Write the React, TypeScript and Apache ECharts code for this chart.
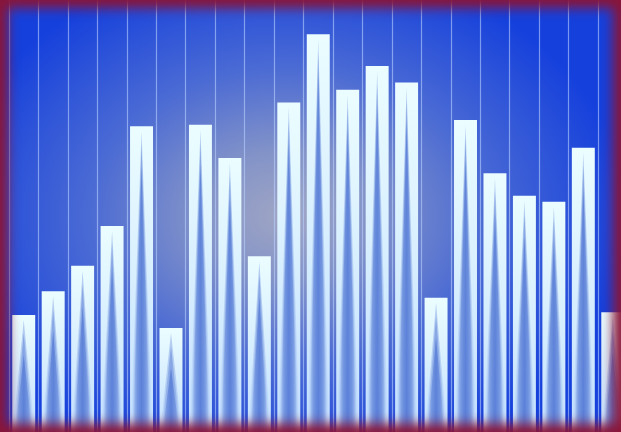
import React, { useEffect, useRef } from "react";
import * as echarts from "echarts";

const categories: string[] = [
  "1", "2", "3", "4", "5", "6", "7", "8", "9", "10", "11",
  "12", "13", "14", "15", "16", "17", "18", "19", "20", "21",
];
const values: number[] = [
  27.1, 32.6, 38.5, 47.7, 70.8, 24.1, 71.1, 63.4, 40.7, 76.3, 92.1,
  79.2, 84.7, 80.9, 31.1, 72.2, 59.9, 54.7, 53.3, 65.8, 27.7,
];
const yMin = 0;
const yMax = 100;

function wedgeFill(alpha: number) {
  return new echarts.graphic.LinearGradient(0, 0, 1, 0, [
    { offset: 0, color: "rgba(60,100,205,0)" },
    { offset: 0.25, color: `rgba(60,100,205,${alpha * 0.65})` },
    { offset: 0.5, color: `rgba(60,100,205,${alpha})` },
    { offset: 0.75, color: `rgba(60,100,205,${alpha * 0.65})` },
    { offset: 1, color: "rgba(60,100,205,0)" },
  ]);
}

export default function App() {
  const ref = useRef<HTMLDivElement | null>(null);

  useEffect(() => {
    if (!ref.current) return;
    const chart = echarts.init(ref.current, null, { renderer: "svg" });
    const data = values.map((v, i) => [i, v]);
    chart.setOption({
      animation: false,
      backgroundColor: "transparent",
      grid: { left: 1, right: 1.5, top: 0, bottom: 0, containLabel: false },
      xAxis: {
        type: "category",
        data: categories,
        boundaryGap: true,
        axisLine: { show: false },
        axisTick: { show: false },
        axisLabel: { show: false },
        splitLine: {
          show: true,
          lineStyle: { color: "rgba(185,210,255,0.6)", width: 1.2 },
        },
      },
      yAxis: {
        type: "value",
        min: yMin,
        max: yMax,
        show: false,
        splitLine: { show: false },
      },
      series: [
        {
          type: "custom",
          data,
          encode: { x: 0, y: 1 },
          renderItem: (params: any, api: any) => {
            const idx = api.value(0);
            const top = api.coord([idx, api.value(1)]);
            const base = api.coord([idx, yMin]);
            const bw = api.size([1, 0])[0] * 0.78;
            const x0 = top[0] - bw / 2;
            const x1 = x0 + bw;
            const h = base[1] - top[1];
            const layers = [
              { apex: 5, inset: 0.5, alpha: 0.3 },
              { apex: 18, inset: 2, alpha: 0.36 },
              { apex: 40, inset: 3, alpha: 0.5 },
            ];
            const children: any[] = [
              {
                type: "rect",
                shape: { x: x0, y: top[1], width: bw, height: h },
                style: {
                  fill: new echarts.graphic.LinearGradient(0, 0, 0, 1, [
                    { offset: 0, color: "#ebfdff" },
                    { offset: 1, color: "#c4e0ff" },
                  ]),
                },
              },
            ];
            layers.forEach((l) => {
              const ay = Math.min(top[1] + l.apex, base[1] - 2);
              children.push({
                type: "polygon",
                shape: {
                  points: [
                    [top[0], ay],
                    [x0 + l.inset, base[1]],
                    [x1 - l.inset, base[1]],
                  ],
                },
                style: { fill: wedgeFill(l.alpha) },
              });
            });
            return { type: "group", children };
          },
        },
      ],
    });
    return () => chart.dispose();
  }, []);

  return (
    <div
      style={{
        position: "fixed",
        left: 0,
        top: 0,
        width: 621,
        height: 432,
        overflow: "hidden",
        background:
          "radial-gradient(ellipse 55% 60% at 46% 50%, #a0a6c4 0%, #8393c8 25%, #4a6ad4 58%, #1540dc 100%)",
      }}
    >
      <div
        ref={ref}
        style={{
          position: "absolute",
          left: 8,
          top: 0,
          width: 621,
          height: 432,
          filter: "blur(0.6px)",
        }}
      />
      <div
        style={{
          position: "absolute",
          left: 0,
          top: 0,
          width: 621,
          height: 432,
          pointerEvents: "none",
          boxShadow: "inset 0 0 12px 8px #8a1538",
        }}
      />
    </div>
  );
}
